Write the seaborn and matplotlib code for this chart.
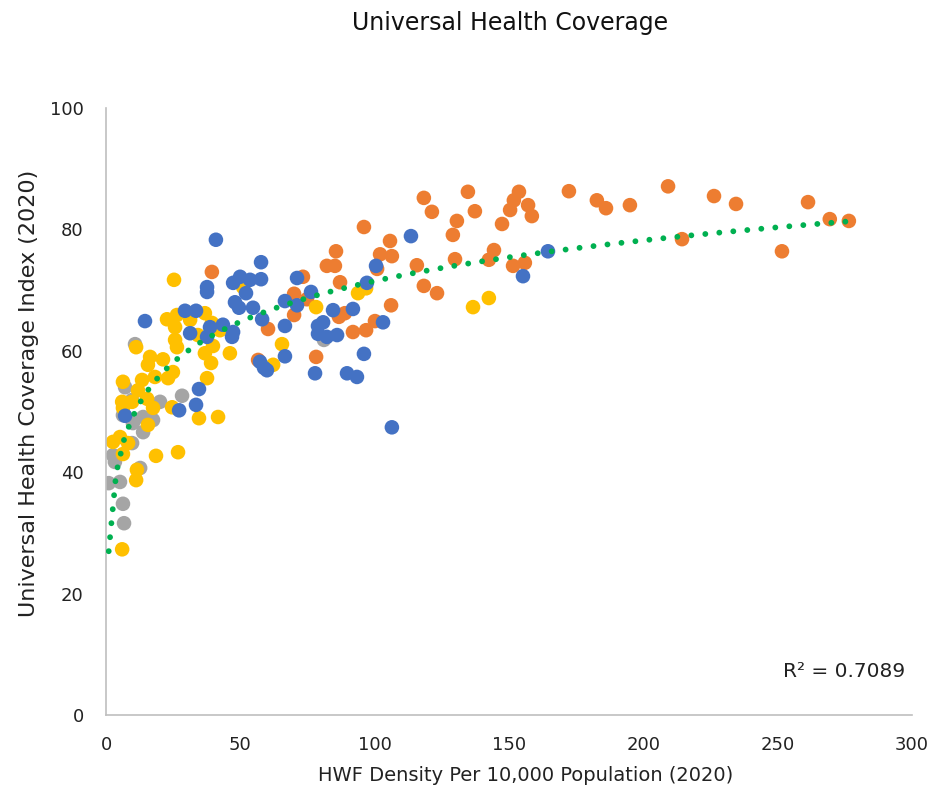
import matplotlib
matplotlib.use('Agg')
import matplotlib.pyplot as plt
import seaborn as sns
import numpy as np
import pandas as pd

# Values (HWF density, UHC index), one group per colour
orange_x = [118.3, 121.3, 134.7, 137.3, 130.6, 129.1, 115.7, 129.9, 118.3, 123.2,
            105.7, 102.0, 106.4, 96.0, 85.6, 82.2, 85.2, 87.1, 100.9, 106.1,
            86.7, 88.9, 100.1, 96.8, 91.9, 78.2, 73.3, 70.0, 74.8, 70.0,
            60.3, 56.6, 39.4, 251.6, 261.3, 269.4, 276.5, 226.3, 234.5, 209.2,
            214.4, 195.0, 186.1, 182.7, 172.3, 153.7, 151.8, 150.4, 157.1, 158.5,
            147.4, 144.4, 142.5, 151.5, 155.9]
orange_y = [85.2, 82.9, 86.2, 83.0, 81.4, 79.1, 74.1, 75.1, 70.7, 69.5,
            78.1, 75.9, 75.6, 80.4, 76.4, 74.0, 74.0, 71.3, 73.5, 67.5,
            65.6, 66.2, 64.9, 63.4, 63.1, 59.0, 72.2, 69.4, 68.5, 65.9,
            63.6, 58.5, 73.0, 76.4, 84.5, 81.7, 81.4, 85.5, 84.2, 87.1,
            78.4, 84.0, 83.5, 84.8, 86.3, 86.2, 84.8, 83.2, 84.0, 82.2,
            80.9, 76.6, 75.0, 74.0, 74.5]

gray_x = [81.1, 10.8, 7.1, 9.7, 20.1, 28.3, 6.3, 13.8, 17.5, 10.0,
          13.8, 9.7, 2.6, 3.3, 12.7, 1.0, 5.2, 6.3, 6.7]
gray_y = [61.8, 61.1, 54.0, 51.9, 51.6, 52.6, 49.4, 49.1, 48.6, 48.1,
          46.6, 44.8, 42.8, 41.7, 40.7, 38.2, 38.4, 34.8, 31.6]

yellow_x = [136.6, 142.5, 78.2, 93.8, 96.8, 65.5, 62.2, 51.0, 46.1, 25.3,
            22.7, 26.4, 29.8, 25.7, 31.3, 36.8, 39.4, 42.4, 25.7, 26.4,
            34.2, 39.8, 36.8, 39.1, 37.6, 21.2, 16.4, 34.6, 41.7, 11.2,
            15.6, 18.2, 23.1, 24.9, 6.3, 13.4, 11.9, 6.0, 9.7, 6.3,
            15.3, 17.5, 24.6, 15.6, 2.6, 5.2, 8.2, 6.3, 18.6, 26.8,
            11.5, 11.2, 6.0]
yellow_y = [67.2, 68.7, 67.2, 69.5, 70.3, 61.1, 57.7, 70.5, 59.6, 71.7,
            65.2, 65.9, 66.4, 63.9, 65.1, 66.2, 64.6, 63.4, 61.8, 60.6,
            62.6, 60.8, 59.6, 58.0, 55.5, 58.6, 59.0, 48.9, 49.1, 60.6,
            57.7, 55.7, 55.5, 56.5, 54.9, 55.2, 53.5, 51.6, 51.6, 50.6,
            52.1, 50.6, 50.7, 47.8, 45.0, 45.8, 44.8, 43.0, 42.7, 43.3,
            40.4, 38.7, 27.3]

blue_x = [164.5, 155.2, 113.5, 106.4, 100.5, 97.1, 71.1, 76.3, 66.6, 71.1,
          84.5, 91.9, 103.1, 80.8, 78.9, 78.9, 82.2, 86.0, 66.6, 66.6,
          96.0, 77.8, 89.7, 93.4, 57.7, 47.3, 49.9, 53.6, 57.7, 52.1,
          48.0, 49.5, 54.7, 58.1, 47.3, 46.9, 57.3, 58.8, 59.9, 40.9,
          37.6, 37.6, 29.4, 33.5, 31.3, 38.7, 43.5, 37.6, 14.5, 34.6,
          33.5, 27.2, 7.1]
blue_y = [76.4, 72.3, 78.9, 47.4, 74.0, 71.2, 72.0, 69.7, 68.2, 67.5,
          66.7, 66.9, 64.7, 64.7, 64.1, 62.8, 62.3, 62.6, 64.1, 59.1,
          59.5, 56.3, 56.3, 55.7, 74.6, 71.2, 72.2, 71.7, 71.8, 69.5,
          68.0, 67.1, 67.1, 65.2, 63.1, 62.3, 58.2, 57.2, 56.8, 78.3,
          70.5, 69.7, 66.6, 66.6, 62.9, 63.9, 64.3, 62.3, 64.9, 53.7,
          51.1, 50.2, 49.3]

x_ticks = [0, 50, 100, 150, 200, 250, 300]
y_ticks = [0, 20, 40, 60, 80, 100]

colors = {'orange': '#ED7D31', 'gray': '#A5A5A5', 'yellow': '#FFC000', 'blue': '#4472C4'}

# draw order matters for overlap: orange, gray, yellow, blue on top
frames = []
for name, xs, ys in [('orange', orange_x, orange_y), ('gray', gray_x, gray_y),
                     ('yellow', yellow_x, yellow_y), ('blue', blue_x, blue_y)]:
    frames.append(pd.DataFrame({'hwf': xs, 'uhc': ys, 'group': name}))
df = pd.concat(frames, ignore_index=True)

sns.set_style('white')
plt.rcParams['font.family'] = ['DejaVu Sans']

fig = plt.figure(figsize=(9.35, 7.95), dpi=100)
ax = fig.add_axes([0.1134, 0.1006, 0.862, 0.7635])

sns.scatterplot(data=df, x='hwf', y='uhc', hue='group', palette=colors,
                s=110, linewidth=0, alpha=1, legend=False, ax=ax, zorder=2)

# logarithmic trendline
sns.regplot(data=df, x='hwf', y='uhc', logx=True, scatter=False, ci=None, ax=ax,
            line_kws={'color': '#00B050', 'linestyle': (0, (0.01, 2.4)),
                      'linewidth': 4.2, 'dash_capstyle': 'round', 'zorder': 3})

ax.set_xlim(0, 300)
ax.set_ylim(0, 100)
ax.set_xticks(x_ticks)
ax.set_yticks(y_ticks)
ax.tick_params(axis='both', length=0, labelsize=13, colors='#222222')
ax.tick_params(axis='x', pad=15)
ax.tick_params(axis='y', pad=16)
ax.set_xlabel('')
ax.set_ylabel('')

for side in ['top', 'right']:
    ax.spines[side].set_visible(False)
for side in ['left', 'bottom']:
    ax.spines[side].set_color('#BFBFBF')
    ax.spines[side].set_linewidth(1.2)

ax.text(0.991, 0.071, 'R² = 0.7089', transform=ax.transAxes, ha='right', va='center',
        fontsize=14.5, color='#222222')

fig.text(0.546, 0.971, 'Universal Health Coverage', ha='center', va='center',
         fontsize=17, color='#111111')
fig.text(0.5626, 0.025, 'HWF Density Per 10,000 Population (2020)', ha='center',
         va='center', fontsize=14, color='#222222')
fig.text(0.031, 0.505, 'Universal Health Coverage Index (2020)', ha='center',
         va='center', rotation=90, fontsize=16, color='#222222')

plt.savefig('out.png', dpi=100)
